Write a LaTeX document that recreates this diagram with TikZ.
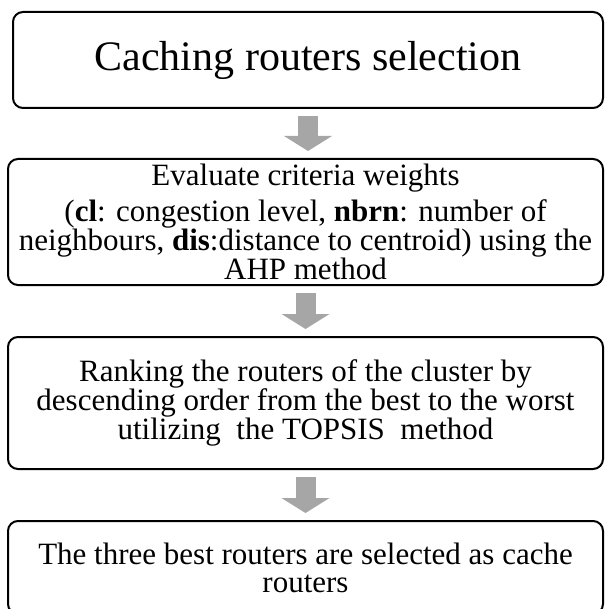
\documentclass[tikz,border=0pt]{standalone}
\usepackage{fontspec}
\setmainfont{Liberation Serif}
\usetikzlibrary{arrows.meta,positioning}
\definecolor{csGray}{RGB}{166,166,166}

\begin{document}
\begin{tikzpicture}[>=Latex, node distance=49pt]
\tikzstyle{stage}=[draw=black, line width=2pt, rounded corners=10pt, align=center, inner sep=4pt, minimum width=595pt, font=\fontsize{31}{28}\selectfont]
\tikzstyle{flow}=[line width=20pt, csGray, -{Triangle[width=48pt,length=15pt,line width=0pt]}, shorten <=7pt, shorten >=7pt]

\useasboundingbox (0,0) rectangle (606pt,-609pt);

\node[stage, minimum width=590pt, minimum height=96pt, font=\fontsize{42}{48}\selectfont] (sel) at (308pt,-60pt) {Caching routers selection};
\node[stage, minimum height=126pt, below=49pt of sel, xshift=-2.5pt] (ahp) {Evaluate criteria weights\\[6pt]
(\textbf{cl}: congestion level, \textbf{nbrn}: number of\\
neighbours, \textbf{dis}:distance to centroid) using the\\
AHP method};
\node[stage, minimum height=132pt, below=50pt of ahp] (topsis) {Ranking the routers of the cluster by\\
descending order from the best to the worst\\
utilizing\ \ the TOPSIS\ \ method};
\node[stage, minimum height=93pt, below=50pt of topsis] (best) {The three best routers are selected as cache\\
routers};

\draw[flow] (sel.south) -- (sel.south |- ahp.north);
\draw[flow] (ahp) -- (topsis);
\draw[flow] (topsis) -- (best);
\end{tikzpicture}
\end{document}
